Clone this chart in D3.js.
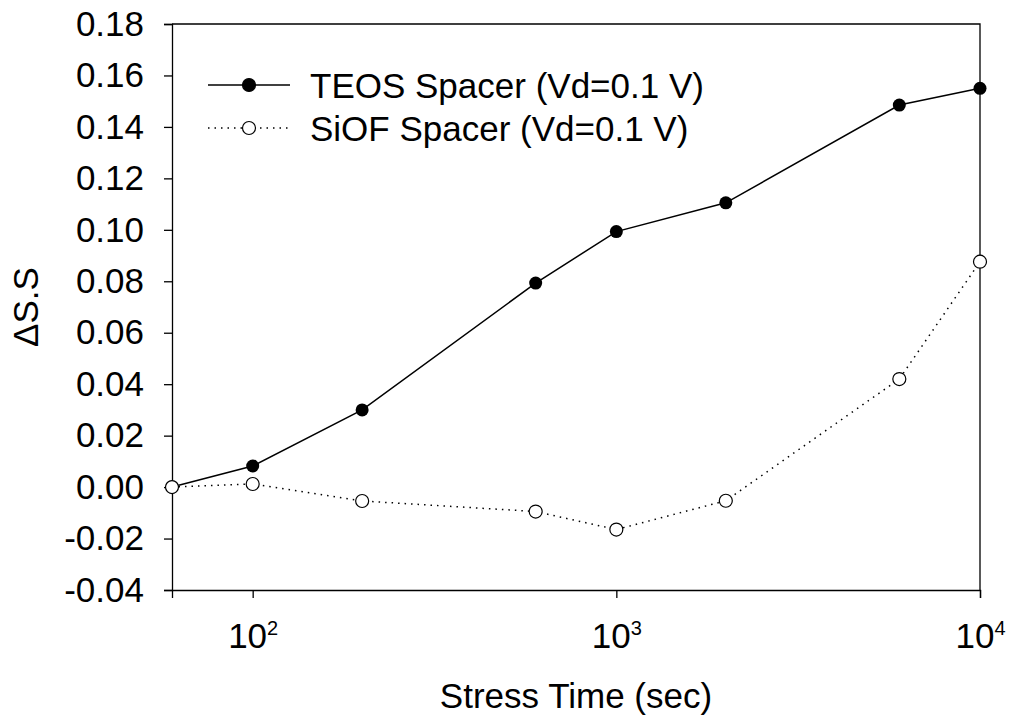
<!DOCTYPE html>
<html>
<head>
<meta charset="utf-8">
<script src="https://cdn.jsdelivr.net/npm/d3@7"></script>
<style>
  html, body { margin: 0; padding: 0; background: #fff; }
  svg { display: block; font-family: Arial, "Liberation Sans", sans-serif; }
</style>
</head>
<body>
<svg id="chart" width="1009" height="717"></svg>
<script>
// ---- data ----
const stressTime = [60, 100, 200, 600, 1000, 2000, 6000, 10000];
const teos = [0.000, 0.0082, 0.030, 0.0793, 0.0993, 0.1105, 0.1485, 0.155];
const siof = [0.000, 0.0012, -0.0054, -0.0095, -0.0165, -0.0053, 0.042, 0.0876];
const seriesNames = ["TEOS Spacer (Vd=0.1 V)", "SiOF Spacer (Vd=0.1 V)"];
const yTicks = [-0.04, -0.02, 0.00, 0.02, 0.04, 0.06, 0.08, 0.10, 0.12, 0.14, 0.16, 0.18];
const xTicks = [100, 1000, 10000];
const xTickExp = ["2", "3", "4"];
const xTitle = "Stress Time (sec)";
const yTitle = "\u0394S.S";

// ---- layout ----
const L = 172, R = 980, T = 24, B = 590;
const FS = 35;
const svg = d3.select("#chart");
const x = d3.scaleLog().domain([60, 10000]).range([L, R]);
const y = d3.scaleLinear().domain([-0.04, 0.18]).range([B, T]);

// frame (top and right)
svg.append("path")
  .attr("d", `M${L},${T}H${R}V${B}`)
  .attr("fill", "none").attr("stroke", "#000").attr("stroke-width", 1.3);

// y axis
const yAxis = svg.append("g").attr("transform", `translate(${L},0)`)
  .call(d3.axisLeft(y).tickValues(yTicks).tickSize(8).tickPadding(20)
    .tickFormat(d => d3.format(".2f")(d).replace("\u2212", "-")));
yAxis.select(".domain").attr("stroke-width", 1.3);
yAxis.selectAll(".tick line").attr("stroke-width", 1.3);
yAxis.selectAll(".tick text").attr("font-size", FS)
  .attr("font-family", "Arial, 'Liberation Sans', sans-serif").attr("fill", "#000");

// x axis
const xAxis = svg.append("g").attr("transform", `translate(0,${B})`)
  .call(d3.axisBottom(x).tickValues(xTicks).tickSize(8).tickFormat(""));
xAxis.select(".domain").attr("stroke-width", 1.3);
xAxis.selectAll(".tick line").attr("stroke-width", 1.3);
xAxis.selectAll(".tick").each(function(d, i) {
  const t = d3.select(this).append("text")
    .attr("y", 58).attr("text-anchor", "middle")
    .attr("font-family", "Arial, 'Liberation Sans', sans-serif")
    .attr("font-size", FS).attr("fill", "#000");
  t.append("tspan").text("10");
  t.append("tspan").attr("dy", -13).attr("font-size", 20).text(xTickExp[i]);
});

// axis titles
svg.append("text").attr("x", (L + R) / 2).attr("y", 708)
  .attr("text-anchor", "middle").attr("font-size", FS).text(xTitle);
svg.append("text").attr("transform", `translate(38,${(T + B) / 2}) rotate(-90)`)
  .attr("text-anchor", "middle").attr("font-size", FS).text(yTitle);

// lines
const line = d3.line().x(d => x(d[0])).y(d => y(d[1]));
const teosPts = stressTime.map((t, i) => [t, teos[i]]);
const siofPts = stressTime.map((t, i) => [t, siof[i]]);

svg.append("path").datum(teosPts).attr("d", line)
  .attr("fill", "none").attr("stroke", "#000").attr("stroke-width", 1.5);
svg.append("g").selectAll("circle").data(teosPts).join("circle")
  .attr("cx", d => x(d[0])).attr("cy", d => y(d[1])).attr("r", 6.5)
  .attr("fill", "#000");

svg.append("path").datum(siofPts).attr("d", line)
  .attr("fill", "none").attr("stroke", "#000").attr("stroke-width", 1.5)
  .attr("stroke-dasharray", "1.5,5");
svg.append("g").selectAll("circle").data(siofPts).join("circle")
  .attr("cx", d => x(d[0])).attr("cy", d => y(d[1])).attr("r", 6.5)
  .attr("fill", "#fff").attr("stroke", "#000").attr("stroke-width", 1.2);

// legend
const leg = svg.append("g");
const legY = [85, 128];
[0, 1].forEach(i => {
  leg.append("line").attr("x1", 208).attr("x2", 290).attr("y1", legY[i]).attr("y2", legY[i])
    .attr("stroke", "#000").attr("stroke-width", 1.5)
    .attr("stroke-dasharray", i === 0 ? null : "1.5,5");
  leg.append("circle").attr("cx", 249).attr("cy", legY[i]).attr("r", 6.5)
    .attr("fill", i === 0 ? "#000" : "#fff").attr("stroke", "#000").attr("stroke-width", 1.2);
  leg.append("text").attr("x", 310).attr("y", legY[i]).attr("dy", "0.36em")
    .attr("font-size", FS).text(seriesNames[i]);
});
</script>
</body>
</html>
